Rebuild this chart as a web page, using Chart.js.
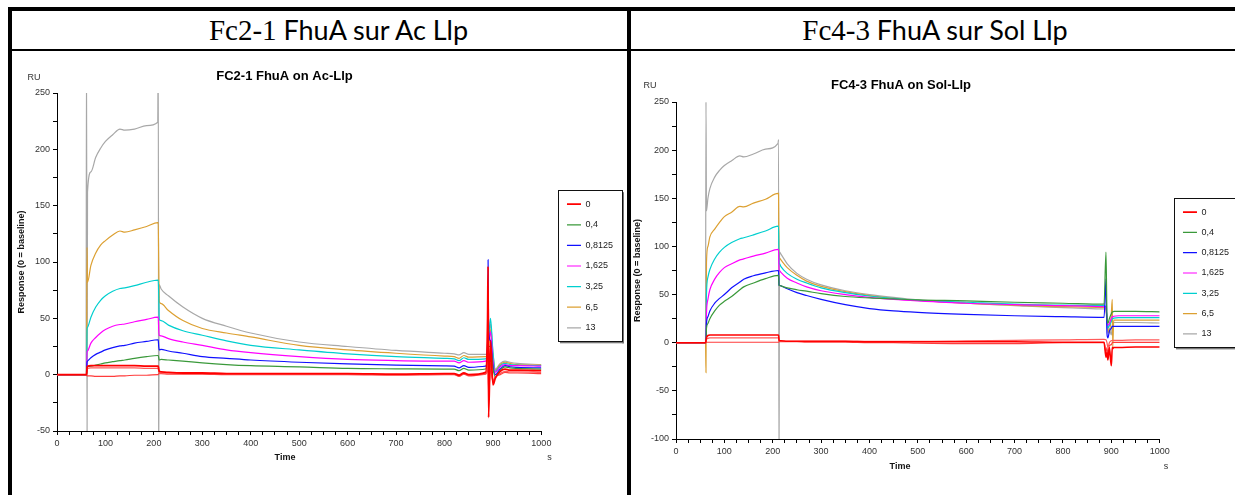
<!DOCTYPE html>
<html>
<head>
<meta charset="utf-8">
<script src="https://cdn.jsdelivr.net/npm/chart.js@4.4.1/dist/chart.umd.min.js"></script>
<style>
  html, body { margin: 0; padding: 0; background: #fff; width: 1235px; height: 495px; overflow: hidden; }
  .rule { position: absolute; background: #000; }
  .head { position: absolute; top: 11px; height: 38px; line-height: 38px; text-align: center; white-space: nowrap;
          font-family: Lato, "Open Sans", sans-serif; font-size: 27px; color: #000; }
  .head .fc { font-family: "Liberation Serif", serif; font-size: 29px; }
  .panel { position: absolute; top: 51px; }
</style>
</head>
<body>
<div class="rule" style="left:8px;top:7px;width:1227px;height:4px"></div>
<div class="rule" style="left:8px;top:7px;width:4px;height:488px"></div>
<div class="rule" style="left:627px;top:7px;width:4px;height:488px"></div>
<div class="rule" style="left:8px;top:49px;width:1227px;height:2px"></div>
<div class="head" style="left:31px;width:615px"><span class="fc">Fc2-1</span> FhuA sur Ac Llp</div>
<div class="head" style="left:633px;width:604px"><span class="fc">Fc4-3</span> FhuA sur Sol Llp</div>
<div class="panel" style="left:12px"><canvas id="chartAc" width="615" height="444"></canvas></div>
<div class="panel" style="left:631px"><canvas id="chartSol" width="640" height="444"></canvas></div>

<script>
// concentrations (legend) and colours
const concLabels = ["0", "0,4", "0,8125", "1,625", "3,25", "6,5", "13"];
const concColors = ["#ff0000", "#3a993a", "#1010ff", "#ff00ff", "#00cfcf", "#dca032", "#a8a8a8"];

// ---- Fc2-1 (Ac-Llp) ----
const timeAc = [0, 60, 61, 62, 63, 70, 80, 90, 100, 115, 130, 140, 160, 185, 208, 209, 210, 211, 215, 230,
  260, 300, 350, 400, 500, 600, 700, 800, 820, 830, 840, 850, 885, 889, 890, 891, 895, 900, 905, 915,
  925, 935, 950, 1000];
const ac0 = [0, 0, 0, 6, 7.5, 8, 8, 8, 8, 8, 8, 8, 8, 7.5, 7.5, 7.5, 5, 3, 2.5, 2,
  1.5, 1.5, 1, 1, 1, 1, 0.5, 1, 1, -0.5, 1.5, 0, 2, 50, 96, -38, 30, -9, -3, 3,
  5, 4, 4, 3.5];
const ac0b = [0, 0, 0, 4, 5.5, 6, 6, 6, 6, 6, 6, 6, 6, 5.5, 5.5, 5.5, 3, 1.5, 1.5, 1.5,
  1, 1, 0.5, 0.5, 0.5, 0.5, 0, 0.5, 0.5, -1, 1, -0.5, 1, 10, 30, -20, 10, -5, -2, 1,
  3, 2.5, 2.5, 2];
const ac0c = [0, 0, 0, -1, -1, -1, -1.5, -1.5, -1.5, -1.5, -1, -1, -0.5, -0.5, 0, 0, 1, 1, 1, 0.5,
  0.5, 0.5, 0, 0, 0, 0, -0.5, 0, 0, -1.5, 0.5, -1, 0.5, 5, 20, -15, 5, -6, -2, 0,
  2, 1.5, 1.5, 1];
const ac04 = [0, 0, 0, 6, 7, 7.5, 8.5, 9.5, 10.5, 11.5, 12.5, 13, 14.5, 16, 17, 17, 15, 13, 13.5, 13,
  12, 10.5, 9, 8, 7, 5.5, 5.2, 5, 5, 3.5, 5.5, 4, 5, 20, 35, 25, 25, 6, -2, 4,
  7, 6, 5.5, 5];
const ac08125 = [0, 0, 0, 11, 12, 15, 18, 20, 22, 24, 25.5, 26, 28, 29.5, 31, 31, 25, 22, 22.5, 21,
  19, 16, 14.5, 13, 11, 9.5, 8.5, 7.8, 7.5, 6, 8, 6.5, 7.5, 30, 102, 40, 30, 8, 0, 5,
  8, 7, 6.5, 6];
const ac1625 = [0, 0, 0, 20, 21, 28, 33, 37, 40, 43, 44.5, 45, 47, 49, 51, 51, 40, 35, 34.5, 32,
  29, 26, 22, 19.5, 16, 13.5, 12.5, 12, 12, 10.5, 12.5, 11, 12, 25, 42, 30, 38, 12, 2, 7,
  9, 8, 8, 7.5];
const ac325 = [0, 0, 0, 40, 42, 51, 60, 66, 70, 74, 76.5, 77, 79, 82, 84, 84, 70, 49, 48, 44,
  39, 35, 30, 26, 22, 18.5, 16, 14.5, 14, 12.5, 15, 13.5, 14, 28, 48, 35, 50, 20, 3, 8,
  10, 9, 8.5, 8];
const ac65 = [0, 0, 0, 113, 82, 97, 108, 115, 119, 124, 127.5, 126.5, 128.5, 131.5, 135, 135, 100, 65, 63, 57,
  48, 41, 37, 33.5, 26, 22, 19, 16.5, 16, 14.5, 17, 15.5, 16, 18, 35, 25, 40, 15, 4, 9,
  11, 10, 9, 8.5];
const ac13 = [0, 0, 300, -80, 162, 180, 193, 201, 207, 213, 218, 217, 218, 221, 224, 300, -80, 80, 76, 70,
  60, 50, 43, 37, 29, 25, 21.5, 19, 18.5, 17.5, 19.5, 18, 18, 22, 40, 28, 45, 20, 5, 10,
  12, 11, 10, 9];

// ---- Fc4-3 (Sol-Llp) ----
const timeSol = [0, 55, 60, 61, 62, 63, 66, 70, 80, 90, 100, 115, 132, 140, 160, 185, 211, 212, 213, 214,
  217, 230, 250, 270, 300, 350, 400, 450, 500, 600, 700, 800, 885, 889, 891, 893, 896, 900, 902, 903,
  905, 915, 950, 1000];
const sol0 = [0, 0, 0, 0, 2, 5, 7.5, 8, 8, 8, 8, 8, 8, 8, 8, 8, 8, 8, 3, 2,
  2, 1.5, 1.5, 1.5, 1.5, 1.5, 1, 1, 1, 1, 1, 0.5, 0.5, -15, -10, -18, -5, -24, -5, -6,
  -5, -5, -4.5, -4.5];
const sol0b = [0, 0, 0, 0, 1, 3, 4.5, 5, 5, 5, 5, 5, 5, 5, 5, 5, 5, 5, 1.5, 1.5,
  1.5, 1.5, 1.5, 1.5, 1.5, 1.5, 1.5, 1.5, 1.5, 2, 2.5, 3, 3.5, 3, 0, -5, 0, 2, 2.5, 2.5,
  2.5, 2.5, 3, 3];
const sol0c = [0, 0, 0, 0, 0, 0.5, 0.5, 0.5, 0.5, 0.5, 0.5, 0.5, 0.5, 0.5, 0.5, 0.5, 0.5, 0.5, 1, 1,
  1, 1, 1, 0.5, 0.5, 0.5, 0, 0, -0.5, -1, -1, 0, 0, -10, -5, -12, -3, -2, 0, 0.3,
  0.3, 0.3, 0.3, 0.3];
const sol04 = [0, 0, 0, 0, 0, 15, 20, 25, 33, 39, 43, 48, 55, 58, 62, 66.5, 70, 70, 60, 59.5,
  59, 57, 55, 53.5, 51, 48, 46.5, 45.5, 44.5, 43.5, 42, 41, 40, 94, 30, 20, 25, 30, 32, 32,
  32.5, 32.5, 32.5, 32];
const sol08125 = [0, 0, 0, 0, 0, 20, 27, 33, 41, 46, 50, 57, 63, 66, 69.5, 72.5, 75, 75, 60, 59.5,
  59, 56, 52, 49, 45, 39.5, 35.5, 33, 31.5, 29.5, 28, 27, 26.3, 66, 10, 5, 12, 15, 17, 17,
  17, 17, 17, 17];
const sol1625 = [0, 0, 0, 0, 0, 30, 45, 55, 66, 73, 78, 82, 86, 87, 90, 93, 97, 97, 76, 75,
  73, 67, 62, 58, 54, 50, 47, 45, 43.5, 41, 39.5, 38.5, 37.5, 36, 25, 18, 20, 25, 27, 27,
  27.5, 28, 28, 28];
const sol325 = [0, 0, 0, 0, 0, 50, 68, 76, 87, 94, 99, 104, 108, 109, 112, 116, 121, 121, 84, 82,
  79, 72, 66, 62, 57, 52, 48.5, 46, 44, 42, 40, 39, 38.5, 37, 25, 15, 18, 22, 25, 25,
  25.5, 26, 26, 26];
const sol65 = [0, 0, 0, 0, -31, 83, 100, 110, 118, 125, 131, 135.5, 141.5, 141, 145, 149, 155, 155, 90, 88,
  86, 78, 70, 64, 58.5, 53, 49, 46, 44, 41, 39, 37.5, 36.5, 35, 25, 15, 10, 30, 45, -5,
  23.5, 23.5, 23.5, 23.5];
const sol13 = [0, 0, 0, 0, 250, 137, 150, 160, 172, 179, 184, 189, 194, 193, 196, 201, 207, 211, -150, 94,
  92, 82, 72, 66, 60, 54, 50, 47, 44.5, 41, 38.5, 36.5, 35, 34, 20, 10, 15, 8, 18, 20,
  21, 21, 21, 20.5];

const fontFam = '"Liberation Sans", Arial, sans-serif';
Chart.defaults.font.family = fontFam;

function series(times, vals, label, color, width, inLegend) {
  return {
    label: label,
    data: times.map((t, i) => ({ x: t, y: vals[i] })),
    borderColor: color,
    backgroundColor: color,
    borderWidth: width,
    pointRadius: 0,
    cubicInterpolationMode: "monotone",
    xAxisID: "x",
    yAxisID: "y",
    inLegend: inLegend,
  };
}

function buildSets(times, reds, others, redWidth) {
  const sets = [series(times, reds[0], concLabels[0], concColors[0], redWidth, true)];
  sets.push(series(times, reds[1], "0b", "#ff5a5a", 1.2, false));
  sets.push(series(times, reds[2], "0c", "#ff3c3c", 1.2, false));
  others.forEach((vals, i) => {
    sets.push(series(times, vals, concLabels[i + 1], concColors[i + 1], 1.2, true));
  });
  return sets;
}

// title, RU, Time, s and the framed legend
const panelDecor = {
  id: "panelDecor",
  afterDraw(chart, args, o) {
    const ctx = chart.ctx;
    ctx.save();
    ctx.textAlign = "center";
    ctx.textBaseline = "middle";
    ctx.fillStyle = "#000";
    ctx.font = "bold 13px " + fontFam;
    ctx.fillText(o.title, o.titleX, o.titleY);
    ctx.fillStyle = "#333";
    ctx.font = "9px " + fontFam;
    ctx.fillText("RU", o.ruX, o.ruY);
    ctx.fillText("s", o.sX, o.bottomY);
    ctx.fillStyle = "#111";
    ctx.font = "bold 9px " + fontFam;
    ctx.fillText("Time", o.timeX, o.bottomY);

    const hb = chart.legend.legendHitBoxes;
    if (hb && hb.length) {
      const left = Math.min(...hb.map((h) => h.left)) - 9;
      const right = Math.max(...hb.map((h) => h.left + h.width)) + 9;
      const top = hb[0].top - 9.5;
      const bottom = hb[hb.length - 1].top + hb[hb.length - 1].height + 9;
      ctx.fillStyle = "#777";
      ctx.fillRect(left + 2, bottom, right - left, 2);
      ctx.fillRect(right, top + 2, 2, bottom - top);
      ctx.strokeStyle = "#111";
      ctx.lineWidth = 1;
      ctx.strokeRect(Math.round(left) + 0.5, Math.round(top) + 0.5, Math.round(right - left), Math.round(bottom - top));
    }
    ctx.restore();
  },
};

function makeChart(id, sets, yMin, yMax, lay, decor) {
  const tickFont = { size: 9, family: fontFam };
  return new Chart(document.getElementById(id), {
    type: "line",
    data: { datasets: sets },
    plugins: [panelDecor],
    options: {
      responsive: false,
      animation: false,
      layout: { padding: { left: 0, top: 0, right: lay.padRight, bottom: lay.padBottom } },
      plugins: {
        title: { display: false },
        tooltip: { enabled: false },
        legend: {
          position: "right",
          labels: {
            usePointStyle: true,
            pointStyle: "line",
            pointStyleWidth: 14,
            padding: lay.legendPad,
            color: "#222",
            font: { size: 9, family: fontFam },
            filter: (item, data) => data.datasets[item.datasetIndex].inLegend,
          },
        },
        panelDecor: decor,
      },
      scales: {
        x: {
          type: "linear",
          position: "bottom",
          min: 0,
          max: 1000,
          ticks: {
            stepSize: 25,
            autoSkip: false,
            maxRotation: 0,
            color: "#333",
            font: tickFont,
            callback: (v) => (v % 100 === 0 ? v : ""),
          },
          grid: { drawOnChartArea: false, tickLength: 4, color: "#000" },
          border: { color: "#000" },
          afterFit: (s) => { s.height = lay.xHeight; },
        },
        y: {
          type: "linear",
          position: "left",
          min: yMin,
          max: yMax,
          ticks: {
            stepSize: 25,
            autoSkip: false,
            color: "#333",
            font: tickFont,
            callback: (v) => (v % 50 === 0 ? v : ""),
          },
          grid: { drawOnChartArea: false, tickLength: 4, color: "#000" },
          border: { color: "#000" },
          title: {
            display: true,
            text: "Response (0 = baseline)",
            color: "#111",
            font: { size: 9, weight: "bold", family: fontFam },
            padding: { top: lay.yTitlePad, bottom: 0 },
          },
          afterFit: (s) => { s.width = 45; },
        },
        gapR: {
          type: "linear",
          position: "right",
          display: true,
          grid: { display: false },
          border: { display: false },
          ticks: { display: false },
          afterFit: (s) => { s.width = lay.gapRight; },
        },
        gapT: {
          type: "linear",
          position: "top",
          display: true,
          grid: { display: false },
          border: { display: false },
          ticks: { display: false },
          afterFit: (s) => { s.height = lay.gapTop; },
        },
      },
    },
  });
}

makeChart(
  "chartAc",
  buildSets(timeAc, [ac0, ac0b, ac0c], [ac04, ac08125, ac1625, ac325, ac65, ac13], 1.8),
  -50, 250,
  { padRight: 4, padBottom: 14, xHeight: 50, legendPad: 11.6, yTitlePad: 4, gapRight: 14, gapTop: 42 },
  { title: "FC2-1 FhuA on Ac-Llp", titleX: 272.5, titleY: 25, ruX: 22, ruY: 27, timeX: 273, sX: 537.5, bottomY: 407 }
);

makeChart(
  "chartSol",
  buildSets(timeSol, [sol0, sol0b, sol0c], [sol04, sol08125, sol1625, sol325, sol65, sol13], 1.6),
  -100, 250,
  { padRight: 32, padBottom: 0, xHeight: 56, legendPad: 11.3, yTitlePad: 1, gapRight: 12, gapTop: 51 },
  { title: "FC4-3 FhuA on Sol-Llp", titleX: 270, titleY: 34, ruX: 19, ruY: 35, timeX: 269, sX: 535, bottomY: 416 }
);
</script>
</body>
</html>
